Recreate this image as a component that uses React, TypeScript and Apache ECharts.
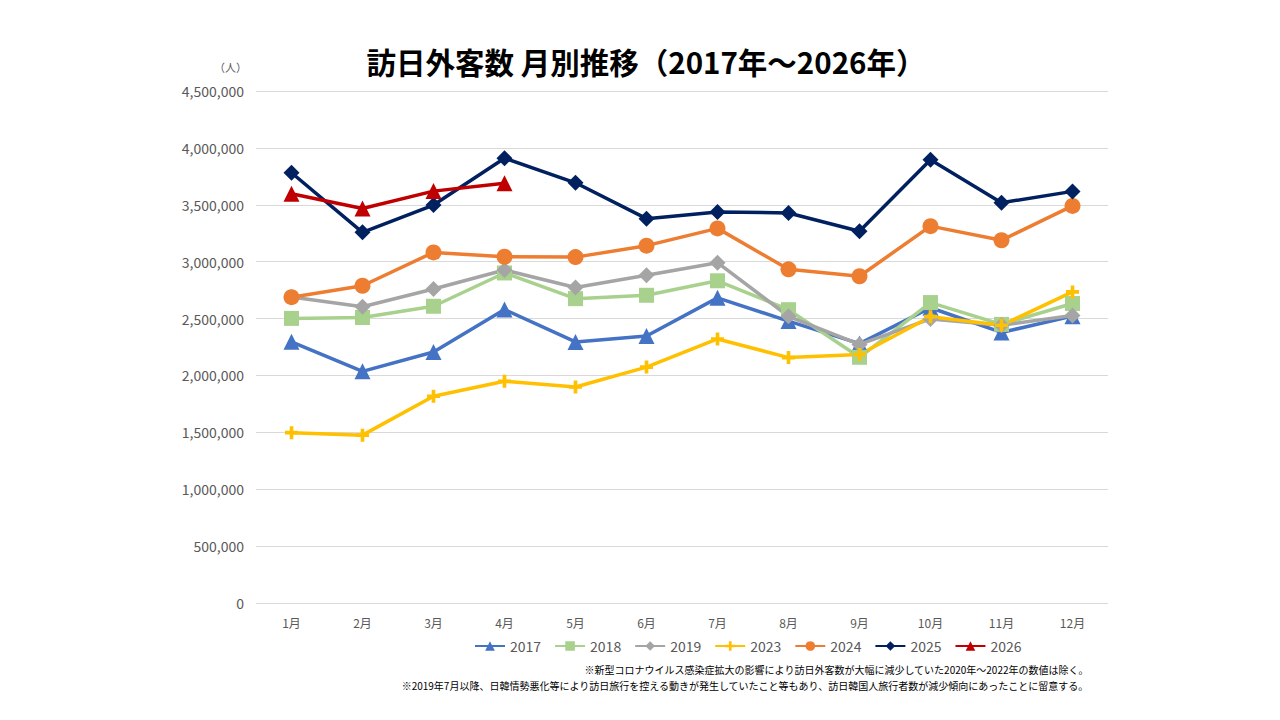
import React, { useEffect, useRef } from "react";
import * as echarts from "echarts";

const months = ["1月", "2月", "3月", "4月", "5月", "6月", "7月", "8月", "9月", "10月", "11月", "12月"];

const v2017 = [2295700, 2035800, 2205700, 2578900, 2294700, 2346400, 2682000, 2478000, 2280000, 2595000, 2378000, 2521000];
const v2018 = [2501400, 2509300, 2608000, 2900700, 2675100, 2704600, 2832000, 2578000, 2159600, 2640600, 2449000, 2632000];
const v2019 = [2689300, 2604300, 2760100, 2926700, 2773100, 2880000, 2991200, 2520100, 2272900, 2496600, 2441300, 2526400];
const v2023 = [1497300, 1475300, 1817500, 1949100, 1898900, 2073300, 2320600, 2156900, 2184300, 2516500, 2440800, 2734000];
const v2024 = [2688100, 2788000, 3081600, 3042900, 3040100, 3140600, 3292500, 2932600, 2872200, 3312200, 3188000, 3489800];
const v2025 = [3781600, 3258100, 3497600, 3908900, 3693300, 3377800, 3437000, 3428000, 3266800, 3896300, 3518000, 3617700];
const v2026 = [3597500, 3466700, 3620000, 3690000];

const yearNames = ["2017", "2018", "2019", "2023", "2024", "2025", "2026"];

const PLUS = "path://M3.6,0H6.4V3.6H10V6.4H6.4V10H3.6V6.4H0V3.6H3.6Z";

const seriesDefs = [
  { name: yearNames[0], data: v2017, color: "#4472C4", symbol: "triangle", size: 16 },
  { name: yearNames[1], data: v2018, color: "#A9D18E", symbol: "rect", size: 15 },
  { name: yearNames[2], data: v2019, color: "#A5A5A5", symbol: "diamond", size: 16 },
  { name: yearNames[3], data: v2023, color: "#FFC000", symbol: PLUS, size: 13 },
  { name: yearNames[4], data: v2024, color: "#ED7D31", symbol: "circle", size: 16 },
  { name: yearNames[5], data: v2025, color: "#002060", symbol: "diamond", size: 16 },
  { name: yearNames[6], data: v2026, color: "#C00000", symbol: "triangle", size: 16 },
];

const FONT = "'Noto Sans CJK JP', 'Noto Sans', sans-serif";

export default function App() {
  const ref = useRef<HTMLDivElement>(null);

  useEffect(() => {
    if (!ref.current) return;
    const chart = echarts.init(ref.current, undefined, { renderer: "svg" });
    chart.setOption({
      animation: false,
      backgroundColor: "#ffffff",
      textStyle: { fontFamily: FONT },
      title: {
        text: "訪日外客数 月別推移（2017年～2026年）",
        left: 641,
        top: 41,
        textAlign: "center",
        textStyle: { fontSize: 29.5, fontWeight: "bold", color: "#000000", fontFamily: FONT },
      },
      grid: { left: 256, right: 172, top: 91, bottom: 117 },
      legend: {
        data: yearNames,
        left: 469,
        top: 634,
        itemWidth: 30,
        itemHeight: 12,
        itemGap: 13,
        textStyle: { fontSize: 14, color: "#595959", fontFamily: FONT },
      },
      xAxis: {
        type: "category",
        data: months,
        boundaryGap: true,
        axisLine: { show: false },
        axisTick: { show: false },
        axisLabel: { color: "#595959", fontSize: 12, margin: 13 },
      },
      yAxis: {
        type: "value",
        min: 0,
        max: 4500000,
        interval: 500000,
        axisLabel: {
          color: "#595959",
          fontSize: 14,
          margin: 12,
          formatter: (v: number) => v.toLocaleString("en-US"),
        },
        splitLine: { lineStyle: { color: "#D9D9D9", width: 1 } },
        axisLine: { show: false },
        axisTick: { show: false },
      },
      graphic: [
        {
          type: "text",
          left: 214,
          top: 61,
          style: { text: "（人）", fill: "#595959", font: `11px ${FONT}` },
        },
        {
          type: "text",
          right: 191,
          top: 664,
          style: {
            text: "※新型コロナウイルス感染症拡大の影響により訪日外客数が大幅に減少していた2020年～2022年の数値は除く。",
            fill: "#000000",
            font: `10px ${FONT}`,
          },
        },
        {
          type: "text",
          right: 191,
          top: 680,
          style: {
            text: "※2019年7月以降、日韓情勢悪化等により訪日旅行を控える動きが発生していたこと等もあり、訪日韓国人旅行者数が減少傾向にあったことに留意する。",
            fill: "#000000",
            font: `10px ${FONT}`,
          },
        },
      ],
      series: seriesDefs.map((s) => ({
        name: s.name,
        type: "line",
        data: s.data,
        symbol: s.symbol,
        symbolSize: s.size,
        showSymbol: true,
        lineStyle: { color: s.color, width: 3.5 },
        itemStyle: { color: s.color },
        emphasis: { disabled: true },
      })),
    });
    return () => chart.dispose();
  }, []);

  return (
    <div
      ref={ref}
      style={{ position: "fixed", left: 0, top: 0, width: 1280, height: 720 }}
    />
  );
}
